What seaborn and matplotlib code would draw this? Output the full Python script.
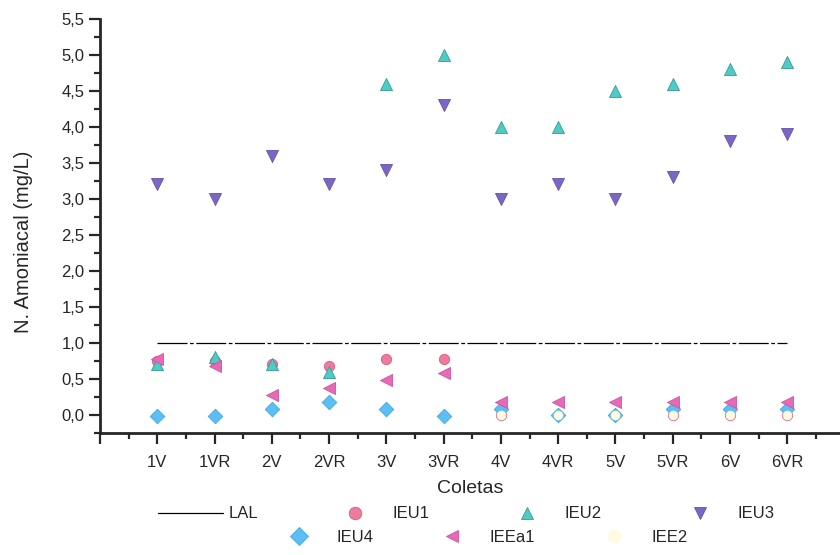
import numpy as np
import pandas as pd
import matplotlib
matplotlib.use("Agg")
import matplotlib.pyplot as plt
import seaborn as sns
from matplotlib.lines import Line2D
from matplotlib.ticker import MultipleLocator, FuncFormatter

# Données
coletas = ["1V", "1VR", "2V", "2VR", "3V", "3VR", "4V", "4VR", "5V", "5VR", "6V", "6VR"]
lal = [1.0] * 12
ieu1 = [0.75, 0.75, 0.70, 0.68, 0.78, 0.78, 0.0, 0.0, 0.0, 0.0, 0.0, 0.0]
ieu2 = [0.70, 0.80, 0.70, 0.60, 4.60, 5.00, 4.00, 4.00, 4.50, 4.60, 4.80, 4.90]
ieu3 = [3.20, 3.00, 3.60, 3.20, 3.40, 4.30, 3.00, 3.20, 3.00, 3.30, 3.80, 3.90]
ieu4 = [-0.02, -0.02, 0.08, 0.18, 0.08, -0.02, 0.08, 0.0, 0.0, 0.08, 0.08, 0.08]
ieea1 = [0.78, 0.68, 0.28, 0.38, 0.48, 0.58, 0.18, 0.18, 0.18, 0.18, 0.18, 0.18]
iee2 = [np.nan] * 6 + [0.0] * 6

series = ["IEU1", "IEU2", "IEU3", "IEU4", "IEEa1", "IEE2"]
valeurs = [ieu1, ieu2, ieu3, ieu4, ieea1, iee2]
couleurs = {"IEU1": "#ee7b9c", "IEU2": "#4fcac6", "IEU3": "#7b66c6",
            "IEU4": "#5cbef2", "IEEa1": "#e76ab8", "IEE2": "#fefbe0"}
bords = {"IEU1": "#dc5a80", "IEU2": "#2f9f8f", "IEU3": "#6352ab",
         "IEU4": "#45a8de", "IEEa1": "#d0529f", "IEE2": "#fefbe0"}
marqueurs = {"IEU1": "o", "IEU2": "^", "IEU3": "v", "IEU4": "D", "IEEa1": "<", "IEE2": "o"}
tailles = {"IEU1": 55, "IEU2": 75, "IEU3": 75, "IEU4": 55, "IEEa1": 75, "IEE2": 40}

pos = np.arange(1, len(coletas) + 1)
df = pd.concat([pd.DataFrame({"pos": pos, "valor": v, "serie": s}) for s, v in zip(series, valeurs)])
df_lal = pd.DataFrame({"pos": pos, "valor": lal})

sns.set_style("ticks")
plt.rcParams["font.family"] = ["Liberation Sans", "DejaVu Sans"]

fig = plt.figure(figsize=(8.4, 5.55), dpi=100)
ax = fig.add_axes([0.119, 0.22, 0.881, 0.746])

sns.lineplot(data=df_lal, x="pos", y="valor", ax=ax, color="black", lw=0.9,
             linestyle=(0, (24, 2, 3, 2)), legend=False)
for s in series:
    sub = df[df["serie"] == s]
    sns.scatterplot(data=sub, x="pos", y="valor", ax=ax, marker=marqueurs[s],
                    color=couleurs[s], edgecolor=bords[s], linewidth=0.6,
                    s=tailles[s], legend=False, zorder=3)

ax.set_xlim(0, 12.92)
ax.set_ylim(-0.25, 5.5)
ax.set_xticks(np.arange(0, 13))
ax.set_xticklabels([""] + coletas)
ax.xaxis.set_minor_locator(MultipleLocator(0.5))
ax.yaxis.set_major_locator(MultipleLocator(0.5))
ax.yaxis.set_minor_locator(MultipleLocator(0.25))
ax.yaxis.set_major_formatter(FuncFormatter(lambda v, p: f"{v:.1f}".replace(".", ",")))
ax.tick_params(axis="both", which="major", length=8, width=1.6, labelsize=12)
ax.tick_params(axis="x", which="major", pad=8)
ax.tick_params(axis="y", which="major", pad=3)
ax.tick_params(axis="both", which="minor", length=4, width=1.6)
sns.despine(ax=ax)
for sp in ["left", "bottom"]:
    ax.spines[sp].set_linewidth(2)

ax.set_xlabel("Coletas", fontsize=14, labelpad=7)
ax.set_ylabel("N. Amoniacal (mg/L)", fontsize=14.5)
ax.yaxis.set_label_coords(-0.0905, 0.461)

# Légende sur deux lignes
def poignee(s):
    return Line2D([], [], ls="", marker=marqueurs[s], markersize=9,
                  markerfacecolor=couleurs[s], markeredgecolor=bords[s], markeredgewidth=0.6)

h1 = [Line2D([], [], color="black", lw=0.9)] + [poignee(s) for s in ["IEU1", "IEU2", "IEU3"]]
l1 = ["LAL", "IEU1", "IEU2", "IEU3"]
h2 = [poignee(s) for s in ["IEU4", "IEEa1", "IEE2"]]
l2 = ["IEU4", "IEEa1", "IEE2"]
fig.legend(h1, l1, loc="center", bbox_to_anchor=(0.555, 0.074), ncol=4, frameon=False,
           fontsize=12, handlelength=3.9, handletextpad=0.3, columnspacing=3.9)
fig.legend(h2, l2, loc="center", bbox_to_anchor=(0.568, 0.031), ncol=3, frameon=False,
           fontsize=12, handlelength=3.9, handletextpad=0.3, columnspacing=2.8)

fig.savefig("out.png", dpi=100)
